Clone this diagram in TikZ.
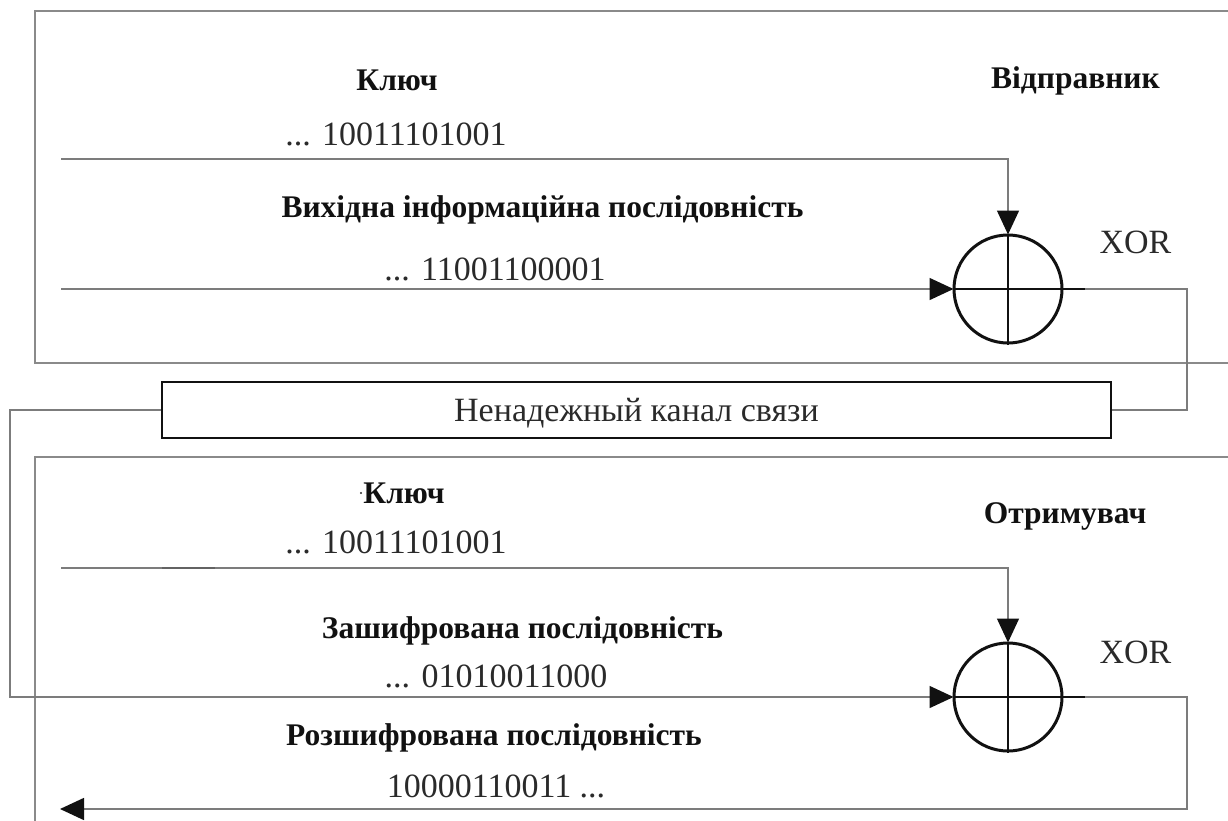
\documentclass[tikz,border=0pt]{standalone}
\usepackage{fontspec}
\setmainfont{Liberation Serif}
\usetikzlibrary{arrows.meta}
\definecolor{frame}{HTML}{8A8A8A}
\definecolor{wire}{HTML}{7C7C7C}
\definecolor{ink}{HTML}{111111}
\definecolor{soft}{HTML}{2A2A2A}
\tikzset{
  panel/.style={draw=frame, line width=1.6pt},
  wireline/.style={draw=wire, line width=1.5pt},
  tip/.style={-{Triangle[length=24pt,width=22pt,color=ink]}, shorten >=-1pt},
  feed/.style={wireline, tip},
  xorc/.style={circle, draw=ink, line width=3pt, minimum size=108pt, inner sep=0pt},
  cross/.style={draw=ink, line width=2pt},
  chanbox/.style={draw=ink, line width=2.4pt, minimum width=949pt, minimum height=56pt, inner sep=0pt},
  lbl/.style={font=\fontsize{31.5}{34}\selectfont\bfseries, text=ink, inner sep=0pt, anchor=base},
  bits/.style={font=\fontsize{34}{37}\selectfont, text=soft, inner sep=0pt, anchor=base},
}
\begin{document}
\begin{tikzpicture}[x=1pt, y=-1pt]
\useasboundingbox (0,0) rectangle (1228,821);
\clip (0,0) rectangle (1228,821);

% sender and receiver panels (running off the right and bottom edges)
\draw[panel] (1240,11) -- (35,11) -- (35,363) -- (1240,363);
\draw[panel] (1240,457) -- (35,457) -- (35,830);

% XOR adders
\node[xorc] (c1) at (1008,289) {};
\node[xorc] (c2) at (1008,697) {};

% insecure channel
\node[chanbox] (chan) at (636.5,410) {};
\node[bits] (chant) at (636.5,421) {Ненадежный канал связи};

% line start and bend points
\coordinate (k1s) at (61,159);
\coordinate (i1s) at (61,289);
\coordinate (o1) at (1085,289);
\coordinate (r1) at (1187,350);
\coordinate (k2s) at (61,568);
\coordinate (l1) at (10,550);
\coordinate (o2) at (1085,697);
\coordinate (r2) at (1187,760);
\coordinate (dec) at (61,809);

% sender wiring
\draw[feed] (k1s) -| (c1.north);
\draw[feed] (i1s) -- (c1.west);
\draw[cross] (c1.north) -- (c1.south);
\draw[cross] (c1.west) -- (o1);
\draw[wireline] (o1) -| (r1) |- (chan.east);

% channel to receiver
\draw[wireline] (chan.west) -| (l1);
\draw[feed] (l1) |- (c2.west);

% receiver wiring
\draw[feed] (k2s) -| (c2.north);
\draw[draw=wire!80!black, line width=2pt] (162,568) -- (215,568);
\draw[cross] (c2.north) -- (c2.south);
\draw[cross] (c2.west) -- (o2);
\draw[wireline] (o2) -| (r2);
\draw[feed] (r2) |- (dec);

% labels, sender
\node[lbl] (key1) at (397,91) {Ключ};
\node[bits] (kb1) at (396,146) {... 10011101001};
\node[lbl] (snd) at (1075.5,89) {Відправник};
\node[lbl] (src) at (542.5,217) {Вихідна інформаційна послідовність};
\node[bits] (sb) at (495,280) {... 11001100001};
\node[bits] (x1) at (1135.5,253) {XOR};

% labels, receiver
\node[lbl] (key2) at (404,503) {Ключ};
\fill[soft] (361,493) circle (1.2pt);
\node[bits] (kb2) at (396,553) {... 10011101001};
\node[lbl] (rcv) at (1065,523) {Отримувач};
\node[lbl] (enc) at (522.5,638) {Зашифрована послідовність};
\node[bits] (eb) at (496,687) {... 01010011000};
\node[bits] (x2) at (1135.5,663) {XOR};
\node[lbl] (dcl) at (494,745) {Розшифрована послідовність};
\node[bits] (db) at (496,797) {10000110011 ...};
\end{tikzpicture}
\end{document}
